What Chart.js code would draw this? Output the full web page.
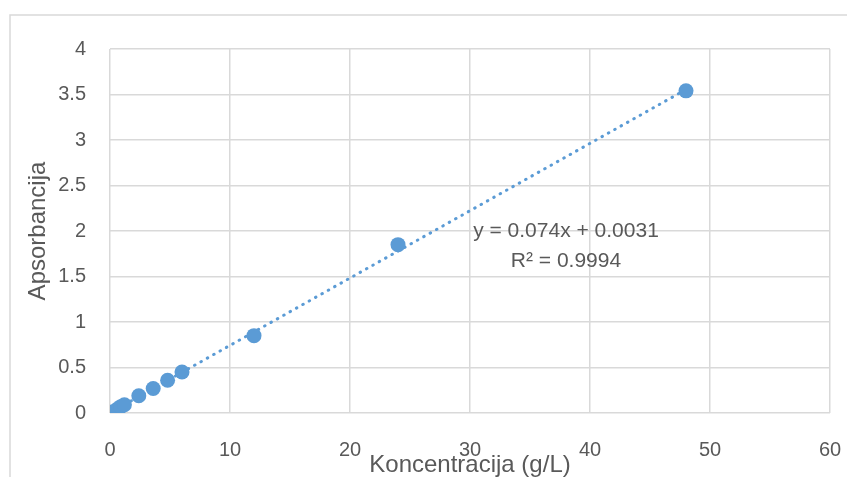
<!DOCTYPE html>
<html>
<head>
<meta charset="utf-8">
<script src="https://cdn.jsdelivr.net/npm/chart.js@4.4.1/dist/chart.umd.min.js"></script>
<style>
  html, body { margin: 0; padding: 0; background: #fff; }
  #wrap { width: 847px; height: 477px; }
</style>
</head>
<body>
<div id="wrap"><canvas id="myChart" width="847" height="477"></canvas></div>
<script>
let concentration = [0.15, 0.6, 0.9, 1.2, 2.4, 3.6, 4.8, 6, 12, 24, 48];
let absorbance = [0.01, 0.04, 0.07, 0.09, 0.19, 0.27, 0.36, 0.45, 0.85, 1.85, 3.54];

// trendline as printed on the chart
let trendSlope = 0.074;
let trendIntercept = 0.0031;
let trendLabel = ['y = 0.074x + 0.0031', 'R² = 0.9994'];

let xTicks = [0, 10, 20, 30, 40, 50, 60];
let yTickLabels = ['0', '0.5', '1', '1.5', '2', '2.5', '3', '3.5', '4'];

let xTitle = 'Koncentracija (g/L)';
let yTitle = 'Apsorbancija';

const blue = '#5b9bd5';
const grey = '#595959';
const gridGrey = '#d9d9d9';
const font = '"Liberation Sans", Arial, sans-serif';

let points = concentration.map(function(c, i) { return { x: c, y: absorbance[i] }; });
let xFirst = concentration[0];
let xLast = concentration[concentration.length - 1];
let trend = [
  { x: xFirst, y: trendSlope * xFirst + trendIntercept },
  { x: xLast, y: trendSlope * xLast + trendIntercept }
];

// frame, axis titles and the trendline equation
const decor = {
  id: 'decor',
  beforeDraw: function(chart) {
    const c = chart.ctx;
    c.save();
    c.strokeStyle = gridGrey;
    c.lineWidth = 1.5;
    c.beginPath();
    c.moveTo(10, 477);
    c.lineTo(10, 15);
    c.lineTo(847, 15);
    c.stroke();
    c.restore();
  },
  afterDraw: function(chart) {
    const c = chart.ctx;
    const area = chart.chartArea;
    c.save();
    c.fillStyle = grey;
    c.textAlign = 'center';
    c.textBaseline = 'middle';

    c.font = '24px ' + font;
    c.fillText(xTitle, (area.left + area.right) / 2, 465);

    c.save();
    c.translate(38, (area.top + area.bottom) / 2);
    c.rotate(-Math.PI / 2);
    c.fillText(yTitle, 0, 0);
    c.restore();

    // equation sits next to the line
    const sx = chart.scales.x;
    const sy = chart.scales.y;
    const cx = sx.getPixelForValue(38);
    const cy = sy.getPixelForValue(2.0);
    c.font = '21px ' + font;
    c.fillText(trendLabel[0], cx, cy);
    c.fillText(trendLabel[1], cx, cy + 30);
    c.restore();
  }
};

var ctx = document.getElementById('myChart').getContext('2d');
var chart = new Chart(ctx, {
  type: 'scatter',
  data: {
    datasets: [{
      label: 'Apsorbancija',
      data: points,
      backgroundColor: blue,
      borderColor: blue,
      borderWidth: 0,
      pointRadius: 7.5
    }, {
      label: 'Trend',
      data: trend,
      showLine: true,
      borderColor: blue,
      borderWidth: 3,
      borderDash: [0.5, 6.8],
      borderCapStyle: 'round',
      pointRadius: 0,
      fill: false
    }]
  },
  options: {
    responsive: false,
    animation: false,
    layout: { padding: { left: 0, top: 49, right: 17, bottom: 0 } },
    plugins: {
      legend: { display: false },
      tooltip: { enabled: false }
    },
    scales: {
      x: {
        type: 'linear',
        min: 0,
        max: 60,
        afterFit: function(scale) {
          scale.height = 64;
          scale.paddingLeft = 0;
          scale.paddingRight = 0;
        },
        afterBuildTicks: function(scale) {
          scale.ticks = xTicks.map(function(v) { return { value: v }; });
        },
        ticks: {
          color: grey,
          font: { family: font, size: 20 },
          padding: 25,
          maxRotation: 0
        },
        grid: { color: gridGrey, lineWidth: 1.5, drawTicks: false },
        border: { display: false }
      },
      y: {
        type: 'linear',
        min: 0,
        max: 4,
        afterFit: function(scale) {
          scale.width = 110;
          scale.paddingTop = 0;
          scale.paddingBottom = 0;
        },
        ticks: {
          stepSize: 0.5,
          color: grey,
          font: { family: font, size: 20 },
          padding: 24,
          callback: function(value) {
            return yTickLabels[Math.round(value / 0.5)];
          }
        },
        grid: { color: gridGrey, lineWidth: 1.5, drawTicks: false },
        border: { display: false }
      }
    }
  },
  plugins: [decor]
});
</script>
</body>
</html>
